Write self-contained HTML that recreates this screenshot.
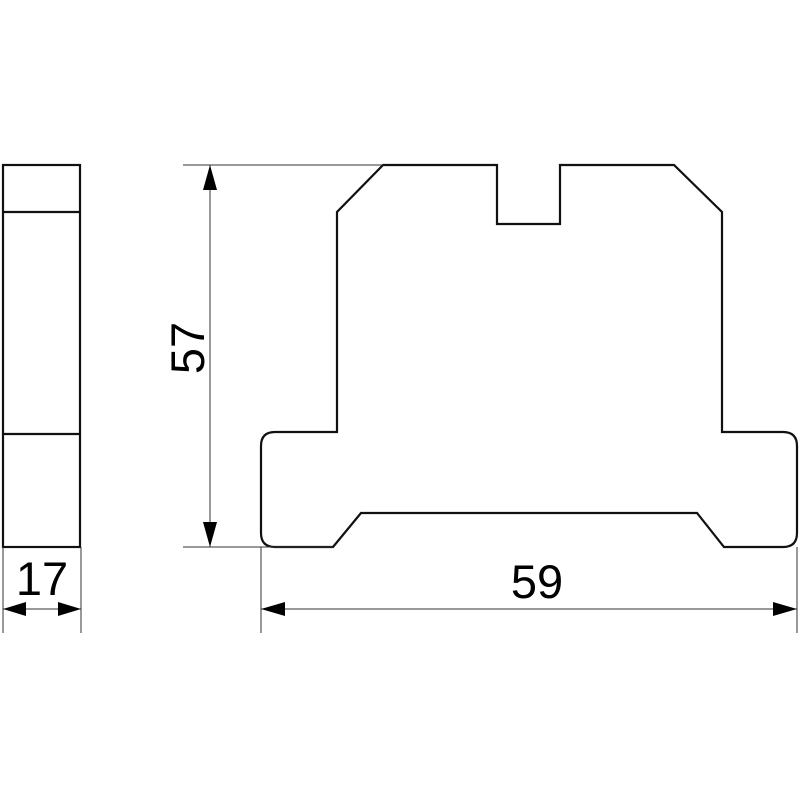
<!DOCTYPE html>
<html><head><style>html,body{margin:0;padding:0;background:#fff;}svg{display:block}</style></head>
<body>
<svg width="800" height="800" viewBox="0 0 800 800" xmlns="http://www.w3.org/2000/svg">
<rect width="800" height="800" fill="#fff"/>
<g fill="none" stroke="#111" stroke-width="2.2" stroke-linejoin="miter">
<rect x="3" y="165" width="77" height="382"/>
<line x1="3" y1="212" x2="80" y2="212"/>
<line x1="3" y1="434" x2="80" y2="434"/>
<path d="M383,165 L497,165 L497,224 L560,224 L560,165 L674,165 L722,212 L722,432 L783,432 Q797,432 797,446 L797,533 Q797,547 783,547 L724,547 L697,513 L361,513 L333,547 L275,547 Q261,547 261,533 L261,446 Q261,432 275,432 L337,432 L337,212 Z"/>
</g>
<g stroke="#333" stroke-width="1">
<line x1="183" y1="165" x2="383" y2="165"/>
<line x1="183" y1="547" x2="333" y2="547"/>
<line x1="210" y1="165" x2="210" y2="547"/>
<line x1="3" y1="547" x2="3" y2="633"/>
<line x1="81" y1="547" x2="81" y2="633"/>
<line x1="3" y1="609" x2="81" y2="609"/>
<line x1="261" y1="547" x2="261" y2="633"/>
<line x1="797" y1="547" x2="797" y2="633"/>
<line x1="261" y1="609" x2="797" y2="609"/>
</g>
<g fill="#000">
<polygon points="210,165 203,190 217,190"/>
<polygon points="210,547 203,522 217,522"/>
<polygon points="3,609 26,602 26,616"/>
<polygon points="81,609 58,602 58,616"/>
<polygon points="261,609 285,602 285,616"/>
<polygon points="797,609 773,602 773,616"/>
</g>
<g font-family="Liberation Sans, Arial, sans-serif" font-size="47" fill="#000" text-anchor="middle">
<text x="42" y="595">17</text>
<text x="537" y="598">59</text>
<text x="204" y="348" transform="rotate(-90 204 348)">57</text>
</g>
</svg>
</body></html>
